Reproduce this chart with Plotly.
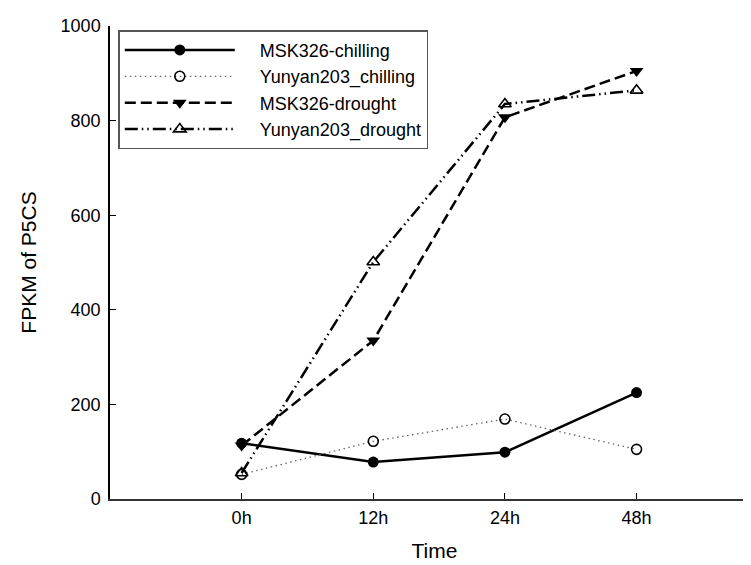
import plotly.graph_objects as go

categories = ["0h", "12h", "24h", "48h"]
msk_chilling = [118, 78, 99, 225]
yunyan_chilling = [52, 122, 169, 105]
msk_drought = [113, 335, 807, 905]
yunyan_drought = [55, 501, 835, 864]
y_ticks = [0, 200, 400, 600, 800, 1000]
series_names = ["MSK326-chilling", "Yunyan203_chilling", "MSK326-drought", "Yunyan203_drought"]

xi = list(range(len(categories)))
FONT = "Liberation Sans, Arial, sans-serif"
PAD = "\u00a0" * 4

fig = go.Figure()
fig.add_trace(go.Scatter(
    x=xi, y=msk_chilling, name=PAD + series_names[0], mode="lines+markers",
    line=dict(color="black", width=2.5),
    marker=dict(symbol="circle", size=11, color="black")))
fig.add_trace(go.Scatter(
    x=xi, y=yunyan_chilling, name=PAD + series_names[1], mode="lines+markers",
    line=dict(color="#666666", width=1.3, dash="1.5px,3.5px"),
    marker=dict(symbol="circle-open", size=10, color="black", line=dict(width=1.6, color="black"))))
fig.add_trace(go.Scatter(
    x=xi, y=msk_drought, name=PAD + series_names[2], mode="lines+markers",
    line=dict(color="black", width=2.5, dash="11px,5px"),
    marker=dict(symbol="triangle-down", size=12, color="black")))
fig.add_trace(go.Scatter(
    x=xi, y=yunyan_drought, name=PAD + series_names[3], mode="lines+markers",
    line=dict(color="black", width=2.5, dash="13px,4px,1.5px,4px,1.5px,4px"),
    marker=dict(symbol="triangle-up-open", size=11, color="black", line=dict(width=1.6, color="black"))))

W, H = 751, 565
left, right, top, bottom = 101.7, 751, 18.3, 490.8
unit = 131.7

fig.update_layout(
    width=W, height=H,
    margin=dict(l=left, r=W - right, t=top, b=H - bottom, autoexpand=False),
    paper_bgcolor="white", plot_bgcolor="white",
    font=dict(family=FONT, size=18, color="black"),
    showlegend=True,
    legend=dict(
        x=(110 - left) / (right - left), y=(bottom - 22.5) / (bottom - top),
        xanchor="left", yanchor="top",
        bordercolor="#555555", borderwidth=1.5, bgcolor="white",
        font=dict(family=FONT, size=18, color="black"),
        itemwidth=110, tracegroupgap=0,
    ),
    xaxis=dict(
        range=[-1, -1 + (right - left) / unit],
        tickmode="array", tickvals=xi, ticktext=categories,
        ticks="inside", ticklen=6, tickwidth=1.2, tickcolor="black",
        showline=True, linecolor="#333333", linewidth=1.5,
        showgrid=False, zeroline=False,
        tickfont=dict(size=18), ticklabelstandoff=2,
        title=dict(text="Time", font=dict(size=21), standoff=16),
        automargin=False,
    ),
    yaxis=dict(
        range=[0, 1000],
        tickmode="array", tickvals=y_ticks,
        ticks="inside", ticklen=6, tickwidth=1.2, tickcolor="black",
        showline=True, linecolor="black", linewidth=1.5,
        showgrid=False, zeroline=False,
        tickfont=dict(size=18), ticklabelstandoff=4,
        title=dict(text="FPKM of P5CS", font=dict(size=21), standoff=18),
        automargin=False,
    ),
)

fig.write_html("out.html")
